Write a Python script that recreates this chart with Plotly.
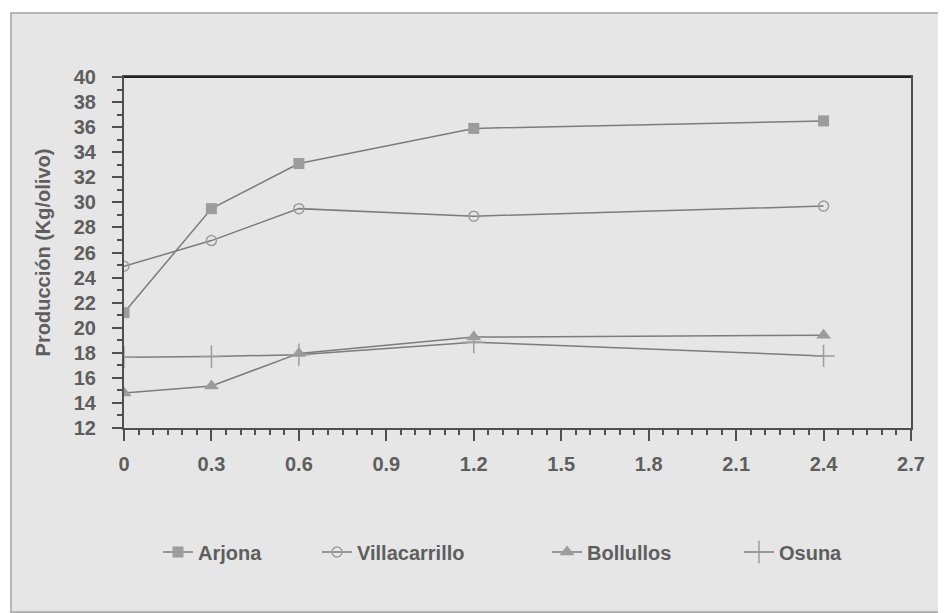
import plotly.graph_objects as go

dosis = [0, 0.3, 0.6, 1.2, 2.4]
arjona = [21.2, 29.5, 33.1, 35.9, 36.5]
villacarrillo = [24.9, 26.95, 29.5, 28.9, 29.7]
bollullos = [14.8, 15.35, 17.95, 19.25, 19.4]
osuna = [17.65, 17.7, 17.85, 18.85, 17.75]

x_ticks = [0, 0.3, 0.6, 0.9, 1.2, 1.5, 1.8, 2.1, 2.4, 2.7]
x_ticklabels = ["0", "0.3", "0.6", "0.9", "1.2", "1.5", "1.8", "2.1", "2.4", "2.7"]
y_ticks = list(range(12, 41, 2))

LINE = "#7c7c7c"
MARK = "#9c9c9c"
TXT = "#5e5e5e"
AX = "#505050"
FONT = "Liberation Sans, Arial, sans-serif"

fig = go.Figure()
series = [
    ("Arjona", arjona, dict(symbol="square", size=11, color=MARK), "legend"),
    ("Villacarrillo", villacarrillo, dict(symbol="circle-open", size=10, color=MARK, line=dict(width=1.5, color=MARK)), "legend2"),
    ("Bollullos", bollullos, dict(symbol="triangle-up", size=13, color=MARK), "legend3"),
    ("Osuna", osuna, dict(symbol="cross-thin-open", size=16, color=MARK, line=dict(width=1.5, color=MARK)), "legend4"),
]
for name, vals, mk, lg in series:
    fig.add_trace(go.Scatter(x=dosis, y=vals, name=name, mode="lines+markers",
                             line=dict(color=LINE, width=1.5), marker=mk, legend=lg))

OFF = 8  # page body margin
W, H = 946, 613
# desired plot area on the page: x 124..911, y 77..428
L = 124 - OFF
T = 77 - OFF
R = W - (911 - OFF)
B = H - (428 - OFF)
pw, ph = W - L - R, H - T - B

def px2x(px):
    return (px - OFF - L) / pw

def py2y(py):
    return (H - B - (py - OFF)) / ph

legend_common = dict(orientation="h", bgcolor="rgba(0,0,0,0)",
                     font=dict(family=FONT, size=20, color=TXT, weight="bold"),
                     yanchor="middle", xanchor="left", y=py2y(552), itemwidth=30)
text_starts = [198, 357, 587, 779]

fig.update_layout(
    width=W, height=H,
    margin=dict(l=L, r=R, t=T, b=B),
    paper_bgcolor="white",
    plot_bgcolor="#e9e9e9",
    showlegend=True,
    legend=dict(x=px2x(text_starts[0] - 40), **legend_common),
    legend2=dict(x=px2x(text_starts[1] - 40), **legend_common),
    legend3=dict(x=px2x(text_starts[2] - 40), **legend_common),
    legend4=dict(x=px2x(text_starts[3] - 40), **legend_common),
    xaxis=dict(range=[0, 2.7], tickvals=x_ticks, ticktext=x_ticklabels,
               showgrid=False, zeroline=False, showline=True, linecolor=AX, linewidth=2,
               mirror=True, ticks="outside", ticklen=11, tickwidth=2, tickcolor=AX,
               ticklabelstandoff=6,
               minor=dict(dtick=0.05, ticks="outside", ticklen=5, tickwidth=1.5, tickcolor=AX),
               tickfont=dict(family=FONT, size=20, color=TXT, weight="bold")),
    yaxis=dict(range=[12, 40], tickvals=y_ticks,
               showgrid=False, zeroline=False, showline=True, linecolor=AX, linewidth=2,
               mirror=True, ticks="outside", ticklen=10, tickwidth=2, tickcolor=AX,
               ticklabelstandoff=12,
               minor=dict(dtick=1, ticks="outside", ticklen=5, tickwidth=1.5, tickcolor=AX),
               tickfont=dict(family=FONT, size=20, color=TXT, weight="bold"),
               title=dict(text="Producción (Kg/olivo)", standoff=18,
                          font=dict(family=FONT, size=20, color=TXT, weight="bold"))),
    shapes=[
        dict(type="rect", xref="paper", yref="paper", layer="below",
             x0=px2x(11), x1=px2x(960), y0=py2y(612), y1=py2y(13),
             fillcolor="#e6e6e6", line=dict(color="#b5b5b5", width=2)),
        dict(type="line", xref="paper", yref="paper", x0=0, x1=1, y0=1, y1=1,
             line=dict(color="#222", width=2)),
    ],
)

fig.write_html("out.html")
